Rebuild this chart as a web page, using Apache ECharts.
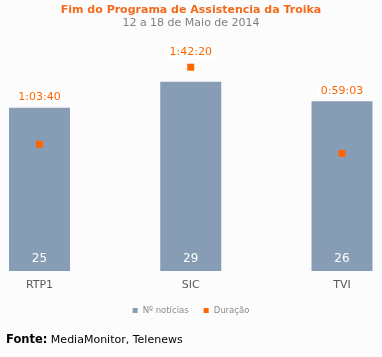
<!DOCTYPE html>
<html>
<head>
<meta charset="utf-8">
<script src="https://cdn.jsdelivr.net/npm/echarts@6/dist/echarts.min.js"></script>
<style>html,body{margin:0;padding:0;background:#fcfcfc;}#c{width:382px;height:357px;}</style>
</head>
<body>
<div id="c"></div>
<script>
const categories = ['RTP1', 'SIC', 'TVI'];
const noticias = [25, 29, 26];
const duracao = ['1:03:40', '1:42:20', '0:59:03'];
const legendNames = ['Nº notícias', 'Duração'];

const toSec = s => { const p = s.split(':').map(Number); return p[0] * 3600 + p[1] * 60 + p[2]; };
const durSec = duracao.map(toSec);
const countMax = 35.4;
const secMax = 6960;
const scatterHigher = durSec.map((s, i) => s / secMax > noticias[i] / countMax);

const FONT = 'DejaVu Sans';
const ORANGE = '#ff6600';
const durLabel = {
  show: true, position: 'top', distance: 4, color: ORANGE, fontFamily: FONT, fontSize: 11,
  backgroundColor: '#ffffff', padding: [2, 3, 1, 3]
};

const chart = echarts.init(document.getElementById('c'));
chart.setOption({
  backgroundColor: '#fcfcfc',
  animation: false,
  title: [
    { text: 'Fim do Programa de Assistencia da Troika', left: 'center', top: 5, padding: 0,
      textStyle: { color: '#f26a1b', fontFamily: FONT, fontSize: 11, fontWeight: 'bold' } },
    { text: '12 a 18 de Maio de 2014', left: 'center', top: 18, padding: 0,
      textStyle: { color: '#808080', fontFamily: FONT, fontSize: 11, fontWeight: 'normal' } },
    { text: '{b|Fonte:} {n|MediaMonitor, Telenews}', left: 6, top: 334, padding: 0,
      textStyle: { color: '#000', fontFamily: FONT, fontSize: 11, fontWeight: 'normal',
        rich: {
          b: { fontWeight: 'bold', fontFamily: FONT, fontSize: 11.5, color: '#000' },
          n: { fontWeight: 'normal', fontFamily: FONT, fontSize: 11, color: '#000' }
        } } }
  ],
  legend: {
    data: legendNames, left: 'center', top: 301, itemWidth: 5, itemHeight: 5, itemGap: 15,
    icon: 'rect', textStyle: { color: '#8c8c8c', fontFamily: FONT, fontSize: 8.5 }
  },
  grid: { left: 39.5, right: 40, top: 40, bottom: 86 },
  xAxis: {
    type: 'category', data: categories, boundaryGap: false,
    axisLine: { show: false }, axisTick: { show: false },
    axisLabel: { color: '#595959', fontFamily: FONT, fontSize: 11, margin: 9 }
  },
  yAxis: [
    { type: 'value', min: 0, max: countMax, show: false, splitLine: { show: false } },
    { type: 'value', min: 0, max: secMax, show: false, splitLine: { show: false } }
  ],
  series: [
    {
      name: legendNames[0], type: 'bar', yAxisIndex: 0, barWidth: 61,
      itemStyle: { color: '#879cb5' },
      data: noticias.map((v, i) => ({
        value: v,
        label: scatterHigher[i] ? { show: false } : Object.assign({}, durLabel, { formatter: duracao[i] })
      })),
      label: durLabel
    },
    {
      name: legendNames[0], type: 'bar', yAxisIndex: 0, barWidth: 61, barGap: '-100%',
      itemStyle: { color: 'transparent' }, legendHoverLink: false, silent: true,
      data: noticias,
      label: { show: true, position: 'insideBottom', distance: 6, color: '#ffffff', fontFamily: FONT, fontSize: 12 }
    },
    {
      name: legendNames[1], type: 'scatter', yAxisIndex: 1, symbol: 'rect', symbolSize: 7,
      itemStyle: { color: ORANGE, opacity: 1 },
      data: durSec.map((s, i) => ({
        value: s,
        label: scatterHigher[i] ? Object.assign({}, durLabel, { formatter: duracao[i], distance: 5 }) : { show: false }
      }))
    }
  ]
});
</script>
</body>
</html>
